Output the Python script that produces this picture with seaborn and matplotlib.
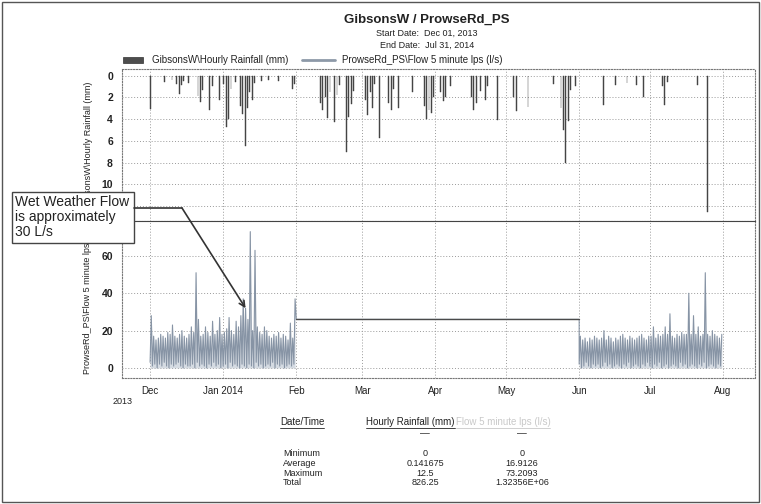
import matplotlib
matplotlib.use('Agg')
import matplotlib.pyplot as plt
import matplotlib.dates as mdates
from matplotlib.lines import Line2D
from matplotlib.patches import Rectangle
import seaborn as sns
import pandas as pd

# hourly rainfall (mm)
rain_dates = ['2013-12-01', '2013-12-07', '2013-12-10', '2013-12-12', '2013-12-13', '2013-12-14',
              '2013-12-15', '2013-12-17', '2013-12-21', '2013-12-22', '2013-12-23', '2013-12-26',
              '2013-12-27', '2013-12-30', '2014-01-01', '2014-01-02', '2014-01-03', '2014-01-04',
              '2014-01-06', '2014-01-08', '2014-01-09', '2014-01-10', '2014-01-11', '2014-01-12',
              '2014-01-13', '2014-01-14', '2014-01-17', '2014-01-20', '2014-01-24', '2014-01-30',
              '2014-01-31', '2014-02-11', '2014-02-12', '2014-02-13', '2014-02-14', '2014-02-15',
              '2014-02-17', '2014-02-18', '2014-02-19', '2014-02-22', '2014-02-23', '2014-02-24',
              '2014-02-25', '2014-03-02', '2014-03-03', '2014-03-04', '2014-03-05', '2014-03-06',
              '2014-03-08', '2014-03-12', '2014-03-13', '2014-03-14', '2014-03-16', '2014-03-22',
              '2014-03-27', '2014-03-28', '2014-03-29', '2014-03-30', '2014-03-31', '2014-04-03',
              '2014-04-04', '2014-04-05', '2014-04-07', '2014-04-16', '2014-04-17', '2014-04-18',
              '2014-04-20', '2014-04-22', '2014-04-23', '2014-04-27', '2014-05-04', '2014-05-05',
              '2014-05-10', '2014-05-21', '2014-05-24', '2014-05-25', '2014-05-26', '2014-05-27',
              '2014-05-28', '2014-05-30', '2014-06-11', '2014-06-16', '2014-06-21', '2014-06-25',
              '2014-06-28', '2014-07-06', '2014-07-07', '2014-07-08', '2014-07-21', '2014-07-25']
rain_mm = [3.1, 0.6, 0.4, 0.8, 1.7, 0.9,
           0.5, 0.7, 1.9, 2.4, 1.3, 3.2,
           1.0, 2.2, 0.8, 4.7, 4.0, 1.2,
           0.6, 2.8, 3.5, 6.5, 3.0, 1.5,
           2.2, 0.7, 0.5, 0.4, 0.5, 1.2,
           0.8, 2.5, 3.2, 2.0, 3.9, 1.5,
           4.3, 1.8, 0.9, 7.0, 3.8, 2.6,
           1.4, 2.2, 3.6, 1.5, 3.0, 0.8,
           5.7, 2.5, 3.2, 1.2, 3.0, 1.5,
           2.8, 4.0, 3.2, 3.4, 2.0, 1.5,
           2.3, 2.0, 1.0, 2.0, 3.2, 2.5,
           1.4, 2.2, 1.0, 4.1, 2.0, 3.3,
           2.9, 0.8, 3.0, 5.0, 8.0, 4.2,
           1.3, 1.0, 2.7, 0.9, 0.7, 0.9,
           2.0, 1.0, 2.7, 0.6, 0.9, 12.5]

# flow 5 minute lps - daily low / high of the logged periods
p1_start = '2013-12-01'
p1_high = [28, 17, 15, 16, 18, 17, 16, 19, 18, 23, 17, 16, 18, 20, 17, 16, 18, 22, 19, 51,
           26, 17, 18, 22, 19, 17, 25, 18, 20, 27, 18,
           19, 21, 27, 20, 18, 25, 22, 28, 37, 32, 26, 73, 20, 63, 22, 19, 18, 22, 20, 17,
           16, 18, 17, 19, 16, 18, 17, 15, 24, 16, 37]
p1_low = [3, 1, 2, 0, 2, 1, 3, 1, 0, 2, 1, 2, 3, 1, 0, 2, 1, 1, 2, 0,
          3, 1, 2, 1, 0, 2, 1, 3, 1, 2, 0,
          1, 2, 0, 3, 1, 2, 1, 0, 2, 1, 0, 2, 1, 0, 3, 1, 2, 0, 1, 2,
          1, 3, 0, 2, 1, 2, 0, 1, 2, 1, 2]
p3_start = '2014-06-01'
p3_high = [17, 15, 16, 14, 16, 15, 17, 16, 15, 16, 20, 15, 17, 16, 14, 16, 15, 17, 18, 16,
           15, 17, 16, 15, 16, 17, 18, 16, 15, 17,
           17, 22, 16, 18, 17, 18, 22, 18, 29, 17, 16, 18, 17, 19, 18, 18, 40, 18, 28, 18,
           22, 17, 18, 51, 18, 17, 20, 18, 17, 16, 18]
p3_low = [2, 0, 1, 3, 1, 0, 2, 1, 2, 0, 1, 3, 1, 2, 0, 1, 2, 1, 0, 2,
          1, 3, 0, 1, 2, 1, 0, 2, 1, 3,
          1, 0, 2, 1, 3, 0, 1, 2, 0, 1, 2, 1, 0, 3, 1, 2, 0, 1, 2, 1,
          0, 2, 1, 3, 0, 1, 2, 1, 0, 2, 1]
gap_dates = ['2014-02-01', '2014-06-01']
gap_flow = [26, 26]

month_ticks = ['2013-12-01', '2014-01-01', '2014-02-01', '2014-03-01', '2014-04-01',
               '2014-05-01', '2014-06-01', '2014-07-01', '2014-08-01']
month_labels = ['Dec', 'Jan 2014', 'Feb', 'Mar', 'Apr', 'May', 'Jun', 'Jul', 'Aug']
rain_ticks = [0, 2, 4, 6, 8, 10, 12]
rain_tick_labels = ['0', '2', '4', '6', '8', '10', '']   # 12 sits under the note box
flow_ticks = [0, 20, 40, 60]

stat_rows = ['Minimum', 'Average', 'Maximum', 'Total']
rain_stats = ['0', '0.141675', '12.5', '826.25']
flow_stats = ['0', '16.9126', '73.2093', '1.32356E+06']

W, H = 761, 504


def fx(px):
    return px / W


def fy(py):
    return 1 - py / H


def zigzag(start, low, high):
    # one low and one high point per logged day
    days = pd.date_range(start, periods=len(high), freq='D')
    xs, ys = [], []
    for d, lo, hi in zip(days, low, high):
        xs += [d, d + pd.Timedelta(hours=12)]
        ys += [lo, hi]
    return xs, ys


sns.set_style('white')
plt.rcParams['font.family'] = ['Liberation Sans', 'DejaVu Sans']

fig = plt.figure(figsize=(W / 100, H / 100), dpi=100)
ax_rain = fig.add_axes([fx(122), fy(221), fx(755) - fx(122), fy(69) - fy(221)])
ax_flow = fig.add_axes([fx(122), fy(378), fx(755) - fx(122), fy(221) - fy(378)])

x0 = mdates.date2num(pd.Timestamp('2013-11-19 02:00'))
x1 = mdates.date2num(pd.Timestamp('2014-08-14 14:00'))
ticks = mdates.date2num(pd.to_datetime(month_ticks))

grid_kw = dict(color='#9a9a9a', linestyle=(0, (1, 2)), linewidth=0.7)

# rainfall, hanging from the top
ax_rain.bar(mdates.date2num(pd.to_datetime(rain_dates)) + 0.3, rain_mm, width=0.38,
            color='#4d4d4d', edgecolor='#3a3a3a', linewidth=0.3, zorder=3)
ax_rain.set_ylim(13.35, -0.6)
ax_rain.set_yticks(rain_ticks)
ax_rain.set_yticklabels(rain_tick_labels)

# flow
xs1, ys1 = zigzag(p1_start, p1_low, p1_high)
xs3, ys3 = zigzag(p3_start, p3_low, p3_high)
for xs, ys in ((xs1, ys1), (xs3, ys3)):
    ax_flow.fill_between(mdates.date2num(pd.to_datetime(xs)), 0, ys, color='#c4ccd7',
                         alpha=0.7, linewidth=0, zorder=2)
flow_x = xs1 + list(pd.to_datetime(gap_dates)) + xs3
flow_y = ys1 + gap_flow + ys3
flow_df = pd.DataFrame({'t': mdates.date2num(pd.to_datetime(flow_x)), 'lps': flow_y})
sns.lineplot(data=flow_df, x='t', y='lps', ax=ax_flow, estimator=None, sort=False,
             color='#8794a5', linewidth=0.8, zorder=3)
ax_flow.plot(mdates.date2num(pd.to_datetime(gap_dates)), gap_flow, color='#4a4a4a',
             linewidth=1.0, zorder=4)
ax_flow.set_ylim(-5.4, 78.7)
ax_flow.set_yticks(flow_ticks)

for ax in (ax_rain, ax_flow):
    ax.set_xlim(x0, x1)
    ax.set_xticks(ticks)
    ax.grid(True, **grid_kw)
    ax.set_axisbelow(True)
    for s in ax.spines.values():
        s.set_linestyle((0, (1, 1.5)))
        s.set_color('#777777')
        s.set_linewidth(0.8)
    ax.tick_params(axis='y', length=2.5, width=0.6, color='#777777', pad=4,
                   labelsize=7.5, labelcolor='#222222')
    ax.tick_params(axis='x', length=2.5, width=0.6, color='#777777', pad=3,
                   labelsize=7, labelcolor='#222222')
    for lab in ax.get_yticklabels():
        lab.set_fontweight('bold')
    ax.set_xlabel('')

ax_rain.set_xticklabels([])
ax_flow.set_xticklabels(month_labels)
ax_flow.spines['top'].set_linestyle('-')
ax_flow.spines['top'].set_color('#444444')

ax_rain.set_ylabel('GibsonsW\\Hourly Rainfall (mm)', fontsize=6.5, color='#222222')
ax_rain.yaxis.set_label_coords((93 - 122) / 633, 0.5)
ax_flow.set_ylabel('ProwseRd_PS\\Flow 5 minute lps (l/s)', fontsize=6.5, color='#222222')
ax_flow.yaxis.set_label_coords((92 - 122) / 633, 0.5)

fig.text(fx(123), fy(402), '2013', fontsize=6.5, color='#222222', ha='center', va='center')

# titles
fig.text(fx(427), fy(20), 'GibsonsW / ProwseRd_PS', fontsize=9.5, fontweight='bold',
         color='#222222', ha='center', va='center')
fig.text(fx(427), fy(33), 'Start Date:  Dec 01, 2013', fontsize=6.5, color='#222222',
         ha='center', va='center')
fig.text(fx(427), fy(45), 'End Date:  Jul 31, 2014', fontsize=6.5, color='#222222',
         ha='center', va='center')

# legend row
fig.add_artist(Rectangle((fx(123), fy(63)), fx(143) - fx(123), fy(57) - fy(63),
                         transform=fig.transFigure, facecolor='#4d4d4d', edgecolor='#333333', lw=0.5))
fig.text(fx(152), fy(60), 'GibsonsW\\Hourly Rainfall (mm)', fontsize=7, color='#222222',
         va='center')
fig.add_artist(Line2D([fx(302), fx(335)], [fy(60), fy(60)], color='#8d99a8', lw=2))
fig.text(fx(342), fy(60), 'ProwseRd_PS\\Flow 5 minute lps (l/s)', fontsize=7, color='#222222',
         va='center')

# annotation box
fig.add_artist(Rectangle((fx(12), fy(243)), fx(134) - fx(12), fy(192) - fy(243),
                         transform=fig.transFigure, facecolor='white', edgecolor='#444444', lw=1))
fig.text(fx(15), fy(195), 'Wet Weather Flow\nis approximately\n30 L/s', fontsize=10,
         color='#222222', va='top', ha='left', linespacing=1.1)
fig.add_artist(Line2D([fx(134), fx(182)], [fy(208), fy(208)], color='#333333', lw=1.2))
ax_flow.annotate('', xy=(mdates.date2num(pd.Timestamp('2014-01-10 12:00')), 32), xycoords='data',
                 xytext=(fx(182), fy(208)), textcoords='figure fraction',
                 arrowprops=dict(arrowstyle='->', color='#333333', lw=1.2,
                                 shrinkA=0, shrinkB=0, mutation_scale=10))

# statistics table
fig.canvas.draw()


def underlined(x, y, s, color, ha):
    t = fig.text(fx(x), fy(y), s, fontsize=7, color=color, ha=ha, va='center')
    bb = t.get_window_extent(renderer=fig.canvas.get_renderer())
    fig.add_artist(Line2D([bb.x0 / W, bb.x1 / W], [(bb.y0 - 0.5) / H] * 2, color=color, lw=0.6))
    return bb


underlined(302, 422, 'Date/Time', '#222222', 'center')
bb = underlined(366, 422, 'Hourly Rainfall (mm)', '#222222', 'left')
underlined(bb.x1 + 1, 422, 'Flow 5 minute lps (l/s)', '#c9c9c9', 'left')

fig.text(fx(425), fy(433), '\u2014', fontsize=7, color='#333333', ha='center', va='center')
fig.text(fx(522), fy(433), '\u2014', fontsize=7, color='#333333', ha='center', va='center')
for i, row in enumerate(stat_rows):
    y = 454 + 9.5 * i
    fig.text(fx(283), fy(y), row, fontsize=6.5, color='#222222', ha='left', va='center')
    fig.text(fx(425), fy(y), rain_stats[i], fontsize=6.5, color='#222222', ha='center', va='center')
    fig.text(fx(522), fy(y), flow_stats[i], fontsize=6.5, color='#222222', ha='center', va='center')

# page frame
fig.add_artist(Rectangle((0.003, 0.004), 0.994, 0.992, transform=fig.transFigure,
                         fill=False, edgecolor='#555555', lw=1))

fig.savefig('out.png', dpi=100)
